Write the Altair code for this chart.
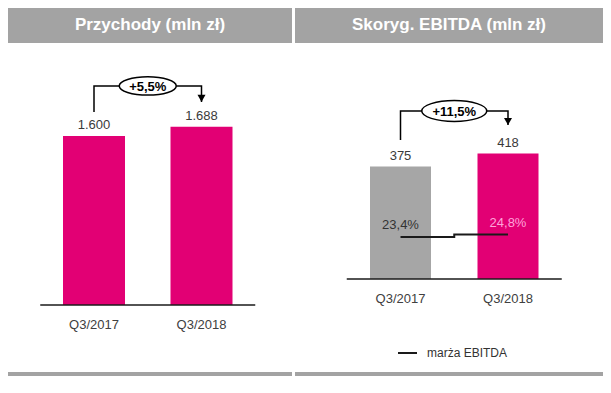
import altair as alt
import pandas as pd

# ---- data ----
categories = ["Q3/2017", "Q3/2018"]
revenue = [1600, 1688]
revenue_labels = ["1.600", "1.688"]
ebitda = [375, 418]
ebitda_labels = ["375", "418"]
margin = [23.4, 24.8]
margin_labels = ["23,4%", "24,8%"]
revenue_change = "+5,5%"
ebitda_change = "+11,5%"
titles = ["Przychody (mln zł)", "Skoryg. EBITDA (mln zł)"]
legend_label = "marża EBITDA"
# bracket annotation levels (value units): start, top, arrow tip
revenue_bracket = [1828, 2074, 1922]
ebitda_bracket = [463, 560, 513]

# ---- styles ----
MAGENTA = "#E20074"
BAR_GRAY = "#a6a6a6"
HEADER = "#a3a3a3"
FONT = "Liberation Sans, Arial, sans-serif"
TITLE_FONT = "Liberation Sans, Arial, sans-serif"
H = 370
K = 0.5523
RY = 0.32
ELLIPSE = (f"M -1 0 C -1 {-K*RY:.4f} {-K:.4f} {-RY} 0 {-RY} C {K:.4f} {-RY} 1 {-K*RY:.4f} 1 0 "
           f"C 1 {K*RY:.4f} {K:.4f} {RY} 0 {RY} C {-K:.4f} {RY} -1 {K*RY:.4f} -1 0 Z")
ARROW = "M 0 0 L -1 -1.8 L 1 -1.8 Z"


def panel(title, W, values, labels, bar_colors, xs, ys, change, bracket, bar_w, ell_w):
    df = pd.DataFrame({"pos": [0, 1], "cat": categories, "value": values,
                       "label": labels, "bc": bar_colors, "base": [0, 0]})
    X = alt.X("pos:Q", scale=xs, axis=None)

    header = alt.Chart(pd.DataFrame({"t": [title]})).mark_rect(color=HEADER).encode(
        x=alt.value(0), x2=alt.value(W), y=alt.value(0), y2=alt.value(35))
    header_text = alt.Chart(pd.DataFrame({"t": [title]})).mark_text(
        font=TITLE_FONT, fontSize=17, fontWeight="bold", color="white", baseline="middle"
    ).encode(text="t:N", x=alt.value(W / 2), y=alt.value(17))
    bottom = alt.Chart(pd.DataFrame({"t": [title]})).mark_rect(color=HEADER).encode(
        x=alt.value(0), x2=alt.value(W), y=alt.value(364), y2=alt.value(368))

    bars = alt.Chart(df).mark_bar(size=bar_w).encode(
        x=X, y=alt.Y("value:Q", scale=ys, axis=None),
        color=alt.Color("bc:N", scale=None))
    axis_line = alt.Chart(pd.DataFrame({"x": [-0.5], "x2": [1.5], "y": [0]})).mark_rule(
        color="#1a1a1a", strokeWidth=1.5).encode(
        x=alt.X("x:Q", scale=xs, axis=None), x2="x2:Q",
        y=alt.Y("y:Q", scale=ys, axis=None))
    value_text = alt.Chart(df).mark_text(
        font=FONT, fontSize=13, color="#3a3a3a", baseline="alphabetic", dy=-7
    ).encode(x=X, y=alt.Y("value:Q", scale=ys, axis=None), text="label:N")
    cat_text = alt.Chart(df).mark_text(
        font=FONT, fontSize=13, color="#404040", baseline="alphabetic", dy=24
    ).encode(x=X, y=alt.Y("base:Q", scale=ys, axis=None), text="cat:N")

    br = pd.DataFrame({"pos": [0, 0, 1, 1],
                       "v": [bracket[0], bracket[1], bracket[1], bracket[2]],
                       "o": [0, 1, 2, 3]})
    br_line = alt.Chart(br).mark_line(color="black", strokeWidth=1.5).encode(
        x=X, y=alt.Y("v:Q", scale=ys, axis=None), order="o:Q")
    arrow = alt.Chart(pd.DataFrame({"pos": [1], "v": [bracket[2]]})).mark_point(
        shape=ARROW, filled=True, color="black", size=64, opacity=1).encode(
        x=X, y=alt.Y("v:Q", scale=ys, axis=None))
    ell_df = pd.DataFrame({"pos": [0.5], "v": [bracket[1]], "t": [change]})
    ell = alt.Chart(ell_df).mark_point(
        shape=ELLIPSE, filled=True, fill="white", stroke="black", strokeWidth=1.5,
        size=ell_w ** 2, opacity=1).encode(x=X, y=alt.Y("v:Q", scale=ys, axis=None))
    ell_text = alt.Chart(ell_df).mark_text(
        font=FONT, fontSize=13, fontWeight="bold", color="black", baseline="middle", dy=1
    ).encode(x=X, y=alt.Y("v:Q", scale=ys, axis=None), text="t:N")

    layers = [header, header_text, bottom, bars, axis_line, value_text, cat_text,
              br_line, arrow, ell, ell_text]
    return layers, df, X


# left panel
xs_l = alt.Scale(domain=[-0.5, 1.5], range=[27.25, 252.25])
ys_l = alt.Scale(domain=[0, 2400], range=[297, 297 - 0.1056 * 2400])
left_layers, _, _ = panel(titles[0], 284, revenue, revenue_labels, [MAGENTA, MAGENTA],
                          xs_l, ys_l, revenue_change, revenue_bracket, 62, 57)
left = alt.layer(*left_layers).properties(width=284, height=H)

# right panel
xs_r = alt.Scale(domain=[-0.5, 1.5], range=[46.75, 271.75])
ys_r = alt.Scale(domain=[0, 800], range=[271, 271 - 0.30 * 800])
ys_m = alt.Scale(domain=[0, 100], range=[271, 92])
right_layers, _, Xr = panel(titles[1], 308, ebitda, ebitda_labels, [BAR_GRAY, MAGENTA],
                            xs_r, ys_r, ebitda_change, ebitda_bracket, 61, 65)
mdf = pd.DataFrame({"pos": [0, 1], "m": margin, "ml": margin_labels,
                    "tc": ["#333333", "#ffa3da"]})
m_line = alt.Chart(mdf).mark_line(interpolate="step", color="#1a1a1a", strokeWidth=2).encode(
    x=Xr, y=alt.Y("m:Q", scale=ys_m, axis=None))
m_text = alt.Chart(mdf).mark_text(font=FONT, fontSize=13, baseline="alphabetic", dy=-8).encode(
    x=Xr, y=alt.Y("m:Q", scale=ys_m, axis=None), text="ml:N",
    color=alt.Color("tc:N", scale=None))
leg_df = pd.DataFrame({"t": [legend_label]})
leg_line = alt.Chart(leg_df).mark_rule(color="#1a1a1a", strokeWidth=2).encode(
    x=alt.value(103), x2=alt.value(122), y=alt.value(345))
leg_text = alt.Chart(leg_df).mark_text(font=FONT, fontSize=12, color="#333333",
                                       align="left", baseline="middle").encode(
    x=alt.value(132), y=alt.value(345), text="t:N")
right = alt.layer(*right_layers, m_line, m_text, leg_line, leg_text).resolve_scale(
    y="independent").properties(width=308, height=H)

chart = alt.hconcat(left, right, spacing=3).properties(
    padding=0, background="white").configure_view(stroke=None)

chart.save("out.html", embed_options={"renderer": "svg", "actions": False})
